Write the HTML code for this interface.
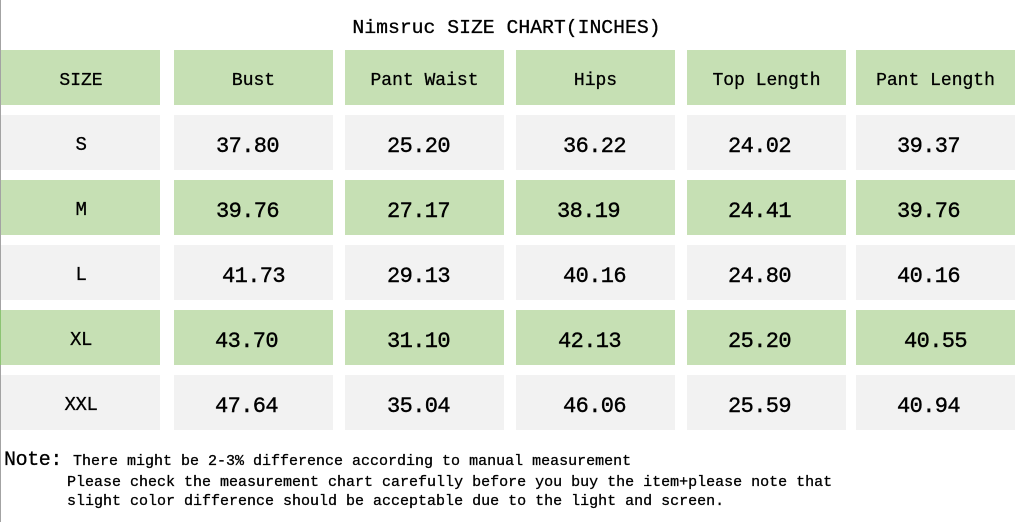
<!DOCTYPE html>
<html>
<head>
<meta charset="utf-8">
<style>
html,body{margin:0;padding:0;background:#fff;}
body{width:1015px;height:522px;position:relative;overflow:hidden;font-family:"Liberation Mono","Noto Sans CJK SC",monospace;color:#000;}
.vline{position:absolute;left:0;top:0;width:1px;height:522px;background:#a3a3a3;}
.title{position:absolute;left:0;width:1015px;top:18px;text-align:center;font-size:19.75px;line-height:20px;padding-right:2px;box-sizing:border-box;-webkit-text-stroke:0.3px #000;}
.c{position:absolute;height:55px;}
.g{background:#c6e0b4;}
.y{background:#f2f2f2;}
.h{position:absolute;font-size:18px;line-height:18px;text-align:center;white-space:pre;-webkit-text-stroke:0.3px #000;}
.s{position:absolute;font-size:19px;line-height:19px;text-align:center;letter-spacing:-0.4px;-webkit-text-stroke:0.3px #000;}
.n{position:absolute;font-size:22px;line-height:22px;letter-spacing:-0.6px;white-space:pre;-webkit-text-stroke:0.4px #000;}
.note{position:absolute;font-size:15px;line-height:15px;white-space:pre;-webkit-text-stroke:0.3px #000;}
.nb{position:absolute;font-size:20px;line-height:20px;letter-spacing:-0.4px;left:4px;top:451px;-webkit-text-stroke:0.3px #000;}
</style>
</head>
<body>
<div class="title">Nimsruc SIZE CHART(INCHES)</div>

<!-- header row -->
<div class="c g" style="left:1px;top:50px;width:159px;"></div>
<div class="c g" style="left:174px;top:50px;width:159px;"></div>
<div class="c g" style="left:345px;top:50px;width:159px;"></div>
<div class="c g" style="left:516px;top:50px;width:159px;"></div>
<div class="c g" style="left:687px;top:50px;width:159px;"></div>
<div class="c g" style="left:856px;top:50px;width:159px;"></div>
<div class="h" style="left:1px;width:160px;top:72px;">SIZE</div>
<div class="h" style="left:174px;width:159px;top:72px;">Bust</div>
<div class="h" style="left:345px;width:159px;top:72px;">Pant Waist</div>
<div class="h" style="left:516px;width:159px;top:72px;">Hips</div>
<div class="h" style="left:687px;width:159px;top:72px;">Top Length</div>
<div class="h" style="left:856px;width:159px;top:72px;">Pant Length</div>

<!-- row S -->
<div class="c y" style="left:1px;top:115px;width:159px;"></div>
<div class="c y" style="left:174px;top:115px;width:159px;"></div>
<div class="c y" style="left:345px;top:115px;width:159px;"></div>
<div class="c y" style="left:516px;top:115px;width:159px;"></div>
<div class="c y" style="left:687px;top:115px;width:159px;"></div>
<div class="c y" style="left:856px;top:115px;width:159px;"></div>
<div class="s" style="left:1px;width:160px;top:136px;">S</div>
<div class="n" style="left:216px;top:136px;">37.80</div>
<div class="n" style="left:387px;top:136px;">25.20</div>
<div class="n" style="left:563px;top:136px;">36.22</div>
<div class="n" style="left:728px;top:136px;">24.02</div>
<div class="n" style="left:897px;top:136px;">39.37</div>

<!-- row M -->
<div class="c g" style="left:1px;top:180px;width:159px;"></div>
<div class="c g" style="left:174px;top:180px;width:159px;"></div>
<div class="c g" style="left:345px;top:180px;width:159px;"></div>
<div class="c g" style="left:516px;top:180px;width:159px;"></div>
<div class="c g" style="left:687px;top:180px;width:159px;"></div>
<div class="c g" style="left:856px;top:180px;width:159px;"></div>
<div class="s" style="left:1px;width:160px;top:201px;">M</div>
<div class="n" style="left:216px;top:201px;">39.76</div>
<div class="n" style="left:387px;top:201px;">27.17</div>
<div class="n" style="left:557px;top:201px;">38.19</div>
<div class="n" style="left:728px;top:201px;">24.41</div>
<div class="n" style="left:897px;top:201px;">39.76</div>

<!-- row L -->
<div class="c y" style="left:1px;top:245px;width:159px;"></div>
<div class="c y" style="left:174px;top:245px;width:159px;"></div>
<div class="c y" style="left:345px;top:245px;width:159px;"></div>
<div class="c y" style="left:516px;top:245px;width:159px;"></div>
<div class="c y" style="left:687px;top:245px;width:159px;"></div>
<div class="c y" style="left:856px;top:245px;width:159px;"></div>
<div class="s" style="left:1px;width:160px;top:266px;">L</div>
<div class="n" style="left:222px;top:266px;">41.73</div>
<div class="n" style="left:387px;top:266px;">29.13</div>
<div class="n" style="left:563px;top:266px;">40.16</div>
<div class="n" style="left:728px;top:266px;">24.80</div>
<div class="n" style="left:897px;top:266px;">40.16</div>

<!-- row XL -->
<div class="c g" style="left:1px;top:310px;width:159px;"></div>
<div class="c g" style="left:174px;top:310px;width:159px;"></div>
<div class="c g" style="left:345px;top:310px;width:159px;"></div>
<div class="c g" style="left:516px;top:310px;width:159px;"></div>
<div class="c g" style="left:687px;top:310px;width:159px;"></div>
<div class="c g" style="left:856px;top:310px;width:159px;"></div>
<div class="s" style="left:1px;width:160px;top:331px;">XL</div>
<div class="n" style="left:215px;top:331px;">43.70</div>
<div class="n" style="left:387px;top:331px;">31.10</div>
<div class="n" style="left:558px;top:331px;">42.13</div>
<div class="n" style="left:728px;top:331px;">25.20</div>
<div class="n" style="left:904px;top:331px;">40.55</div>

<!-- row XXL -->
<div class="c y" style="left:1px;top:375px;width:159px;"></div>
<div class="c y" style="left:174px;top:375px;width:159px;"></div>
<div class="c y" style="left:345px;top:375px;width:159px;"></div>
<div class="c y" style="left:516px;top:375px;width:159px;"></div>
<div class="c y" style="left:687px;top:375px;width:159px;"></div>
<div class="c y" style="left:856px;top:375px;width:159px;"></div>
<div class="s" style="left:1px;width:160px;top:396px;">XXL</div>
<div class="n" style="left:215px;top:396px;">47.64</div>
<div class="n" style="left:387px;top:396px;">35.04</div>
<div class="n" style="left:563px;top:396px;">46.06</div>
<div class="n" style="left:728px;top:396px;">25.59</div>
<div class="n" style="left:897px;top:396px;">40.94</div>

<div class="vline"></div>
<div class="vline" style="top:310px;height:55px;background:#8cc472;"></div>

<div class="nb">Note:</div>
<div class="note" style="left:73px;top:454px;">There might be 2-3% difference according to manual measurement</div>
<div class="note" style="left:67px;top:475px;">Please check the measurement chart carefully before you buy the item+please note that</div>
<div class="note" style="left:67px;top:494px;">slight color difference should be acceptable due to the light and screen.</div>
</body>
</html>
